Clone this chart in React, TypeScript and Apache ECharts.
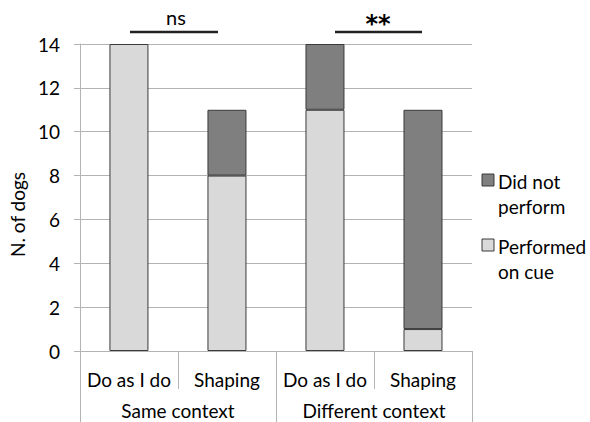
import React, { useEffect, useRef } from "react";
import * as echarts from "echarts";

const conditions = ["Do as I do", "Shaping", "Do as I do", "Shaping"];
const contexts = ["Same context", "Different context"];
const performedOnCue = [14, 8, 11, 1];
const didNotPerform = [0, 3, 3, 10];
const yTicks = { min: 0, max: 14, interval: 2 };
const legendItems = [
  { name: "Did not perform", lines: ["Did not", "perform"], color: "#7f7f7f" },
  { name: "Performed on cue", lines: ["Performed", "on cue"], color: "#d9d9d9" },
];

const FONT = "Lato";
const FS = 19;

export default function App() {
  const ref = useRef<HTMLDivElement>(null);
  useEffect(() => {
    const chart = echarts.init(ref.current!, null, { renderer: "svg" });
    const legendGraphic: any[] = [];
    legendItems.forEach((it, i) => {
      const top = 174 + i * 65;
      legendGraphic.push({
        type: "rect",
        shape: { x: 482, y: top, width: 12, height: 12 },
        style: { fill: it.color, stroke: "#3a3a3a", lineWidth: 1 },
      });
      it.lines.forEach((ln, j) => {
        legendGraphic.push({
          type: "text",
          x: 498,
          y: top + 7 + j * 25,
          style: { text: ln, font: `${FS}px "${FONT}"`, fill: "#000", verticalAlign: "middle" },
        });
      });
    });
    chart.setOption({
      animation: false,
      backgroundColor: "#fff",
      textStyle: { fontFamily: FONT, color: "#000" },
      grid: { left: 76, right: 118, top: 44, bottom: 71 },
      xAxis: [
        {
          type: "category",
          data: conditions,
          position: "bottom",
          axisLine: { show: true, lineStyle: { color: "#b3b3b3" } },
          axisTick: { show: true, length: 38, lineStyle: { color: "#b3b3b3" } },
          axisLabel: { fontFamily: FONT, fontSize: FS, color: "#000", margin: 19, interval: 0 },
        },
        {
          type: "category",
          data: contexts,
          position: "bottom",
          axisLine: { show: false },
          axisTick: { show: true, length: 71, lineStyle: { color: "#b3b3b3" } },
          axisLabel: { fontFamily: FONT, fontSize: FS, color: "#000", margin: 50, interval: 0 },
        },
      ],
      yAxis: {
        type: "value",
        min: yTicks.min,
        max: yTicks.max,
        interval: yTicks.interval,
        name: "N. of dogs",
        nameLocation: "middle",
        nameGap: 52,
        nameTextStyle: { fontFamily: FONT, fontSize: FS, color: "#000", padding: [0, 34, 0, 0] },
        axisLine: { show: true, lineStyle: { color: "#b3b3b3" } },
        axisTick: { show: true, length: 6, lineStyle: { color: "#b3b3b3" } },
        axisLabel: { fontFamily: FONT, fontSize: FS, color: "#000", margin: 20 },
        splitLine: { lineStyle: { color: "#b3b3b3" } },
      },
      series: [
        {
          name: "Performed on cue",
          type: "bar",
          stack: "total",
          xAxisIndex: 0,
          data: performedOnCue,
          barWidth: 39,
          itemStyle: { color: "#d9d9d9", borderColor: "#3a3a3a", borderWidth: 1 },
        },
        {
          name: "Did not perform",
          type: "bar",
          stack: "total",
          xAxisIndex: 0,
          data: didNotPerform.map((v) => (v === 0 ? null : v)),
          barWidth: 39,
          itemStyle: { color: "#7f7f7f", borderColor: "#3a3a3a", borderWidth: 1 },
        },
      ],
      graphic: [
        { type: "line", shape: { x1: 130, y1: 32, x2: 218, y2: 32 }, style: { stroke: "#222", lineWidth: 2.5 } },
        { type: "text", x: 176, y: 17, style: { text: "ns", font: `20px "${FONT}"`, fill: "#000", align: "center", verticalAlign: "middle" } },
        { type: "line", shape: { x1: 335, y1: 32, x2: 422, y2: 32 }, style: { stroke: "#222", lineWidth: 2.5 } },
        { type: "text", x: 378, y: 24, style: { text: "**", font: `bold 24px "DejaVu Sans"`, fill: "#000", align: "center", verticalAlign: "middle" } },
        ...legendGraphic,
      ],
    });
    return () => chart.dispose();
  }, []);
  return <div ref={ref} style={{ width: 590, height: 422, position: "absolute", left: 0, top: 0 }} />;
}
